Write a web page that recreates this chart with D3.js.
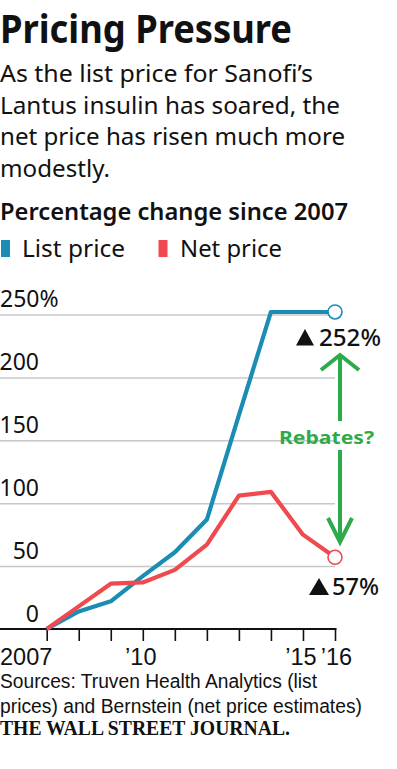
<!DOCTYPE html>
<html>
<head>
<meta charset="utf-8">
<script src="https://cdn.jsdelivr.net/npm/d3@7"></script>
<style>
  html, body { margin: 0; padding: 0; background: #fff; }
  svg { display: block; }
  text { font-family: "Noto Sans", "Open Sans", sans-serif; fill: #111; }
</style>
</head>
<body>
<div id="chart"></div>
<script>
// ---- data ----
const years = [2007, 2008, 2009, 2010, 2011, 2012, 2013, 2014, 2015, 2016];
const listPrice = [0, 14, 22, 42, 61, 87, 170, 252, 252, 252];
const netPrice = [0, 18, 36, 37, 47, 67, 106, 109, 75, 57];
const yTicks = [0, 50, 100, 150, 200, 250];
const xTickLabels = { 2007: "2007", 2010: "\u201910", 2015: "\u201915", 2016: "\u201916" };
const seriesNames = ["List price", "Net price"];
const endLabels = ["252%", "57%"];
const subtitleLines = [
  "As the list price for Sanofi\u2019s",
  "Lantus insulin has soared, the",
  "net price has risen much more",
  "modestly."
];
const sourceLines = [
  "Sources: Truven Health Analytics (list",
  "prices) and Bernstein (net price estimates)"
];

const W = 397, H = 769;
const BLUE = "#1b8cb3", RED = "#ee4a4f", GREEN = "#2eaa4b", GRID = "#c8c8c8";
const ALT = "'Liberation Sans', Arial, sans-serif";

const svg = d3.select("#chart").append("svg").attr("width", W).attr("height", H);

function fit(sel, w) {
  sel.attr("textLength", w).attr("lengthAdjust", "spacingAndGlyphs");
  return sel;
}

// ---- titles ----
fit(svg.append("text").attr("x", 0).attr("y", 43)
  .style("font-size", "39px").style("font-weight", 700)
  .text("Pricing Pressure"), 292);

const subW = [313, 340, 345, 110];
const subY = [82, 113.5, 145, 177];
subtitleLines.forEach((t, i) => {
  fit(svg.append("text").attr("x", 0).attr("y", subY[i])
    .style("font-size", "23.5px").text(t), subW[i]);
});

fit(svg.append("text").attr("x", 0).attr("y", 220)
  .style("font-size", "23.5px").style("font-weight", 600)
  .text("Percentage change since 2007"), 348);

// ---- legend ----
const legend = [
  { name: seriesNames[0], color: BLUE, rx: 1, tx: 22, tw: 103 },
  { name: seriesNames[1], color: RED, rx: 158.5, tx: 180, tw: 102 }
];
legend.forEach(l => {
  svg.append("rect").attr("x", l.rx).attr("y", 240).attr("width", 9).attr("height", 17).attr("fill", l.color);
  fit(svg.append("text").attr("x", l.tx).attr("y", 257).style("font-size", "24px").text(l.name), l.tw);
});

// ---- scales ----
const x = d3.scaleLinear().domain([2007, 2016]).range([46.7, 335]);
const y = d3.scaleLinear().domain([0, 250]).range([629, 314.5]);

// gridlines + y labels
const yAxis = d3.axisRight(y).tickValues(yTicks.filter(d => d > 0)).tickSize(335).tickFormat("");
const gy = svg.append("g").call(yAxis);
gy.select(".domain").remove();
gy.selectAll(".tick line").attr("stroke", GRID).attr("stroke-width", 1.5);

yTicks.forEach(v => {
  const top = v === yTicks[yTicks.length - 1];
  svg.append("text")
    .attr("x", top ? 0 : 39)
    .attr("y", y(v) - 7.5)
    .attr("text-anchor", top ? "start" : "end")
    .style("font-size", "23px")
    .text(top ? v + "%" : v);
});

// x axis
const xAxis = d3.axisBottom(x).tickValues(years).tickSize(12).tickFormat("");
const gx = svg.append("g").attr("transform", `translate(0,${y(0)})`).call(xAxis);
gx.select(".domain").remove();
gx.selectAll(".tick line").attr("stroke", "#111").attr("stroke-width", 1.6);
svg.append("line").attr("x1", 0).attr("x2", 336.5).attr("y1", y(0)).attr("y2", y(0))
  .attr("stroke", "#111").attr("stroke-width", 2);

const xLabelShift = { 2007: 0, 2010: -2, 2015: -2, 2016: 1.5 };
years.filter(yr => xTickLabels[yr]).forEach((yr, i) => {
  const first = i === 0;
  svg.append("text")
    .attr("x", first ? 0 : x(yr) + xLabelShift[yr])
    .attr("y", 664.5)
    .attr("text-anchor", first ? "start" : "middle")
    .style("font-family", ALT)
    .style("font-size", "23.5px")
    .text(xTickLabels[yr]);
});

// ---- lines ----
const line = d3.line().x((d, i) => x(years[i])).y(d => y(d));
svg.append("path").datum(listPrice).attr("d", line)
  .attr("fill", "none").attr("stroke", BLUE).attr("stroke-width", 4.2).attr("stroke-linejoin", "round");
svg.append("path").datum(netPrice).attr("d", line)
  .attr("fill", "none").attr("stroke", RED).attr("stroke-width", 4.2).attr("stroke-linejoin", "round");

const last = years.length - 1;
[[listPrice, BLUE], [netPrice, RED]].forEach(([s, c]) => {
  svg.append("circle").attr("cx", x(years[last])).attr("cy", y(s[last])).attr("r", 7)
    .attr("fill", "#fff").attr("stroke", c).attr("stroke-width", 1.6);
});

// ---- end labels ----
function triangle(xl, yb, w, h) {
  svg.append("path").attr("d", `M${xl},${yb}L${xl + w / 2},${yb - h}L${xl + w},${yb}Z`).attr("fill", "#111");
}
triangle(296, 345.5, 18, 16.5);
fit(svg.append("text").attr("x", 319).attr("y", 345.5).style("font-size", "23.5px").style("font-weight", 500)
  .text(endLabels[0]), 62);
triangle(309, 595, 20, 17);
fit(svg.append("text").attr("x", 332).attr("y", 595).style("font-size", "23.5px").style("font-weight", 500)
  .text(endLabels[1]), 47);

// ---- rebates annotation ----
const ax = 340;
const g = svg.append("g").attr("stroke", GREEN).attr("stroke-width", 4).attr("fill", "none")
  .attr("stroke-linecap", "butt").attr("stroke-linejoin", "miter");
g.append("path").attr("d", `M${ax},356 L${ax},421`);
g.append("path").attr("d", `M${ax - 19},370 L${ax},355 L${ax + 19},370`);
g.append("path").attr("d", `M${ax},450 L${ax},541`);
g.append("path").attr("d", `M${ax - 12},518 L${ax},542 L${ax + 12},518`);
fit(svg.append("text").attr("x", 279).attr("y", 443.5).style("font-size", "17.5px").style("font-weight", 700)
  .style("fill", GREEN).text("Rebates?"), 95);

// ---- sources ----
const srcW = [317, 362];
const srcY = [688, 712.5];
sourceLines.forEach((t, i) => {
  fit(svg.append("text").attr("x", 0).attr("y", srcY[i]).style("font-family", ALT)
    .style("font-size", "20px").text(t), srcW[i]);
});

fit(svg.append("text").attr("x", 0).attr("y", 735)
  .style("font-family", "'Liberation Serif', 'DejaVu Serif', serif").style("font-size", "20px").style("font-weight", 700)
  .text("THE WALL STREET JOURNAL."), 290);
</script>
</body>
</html>
